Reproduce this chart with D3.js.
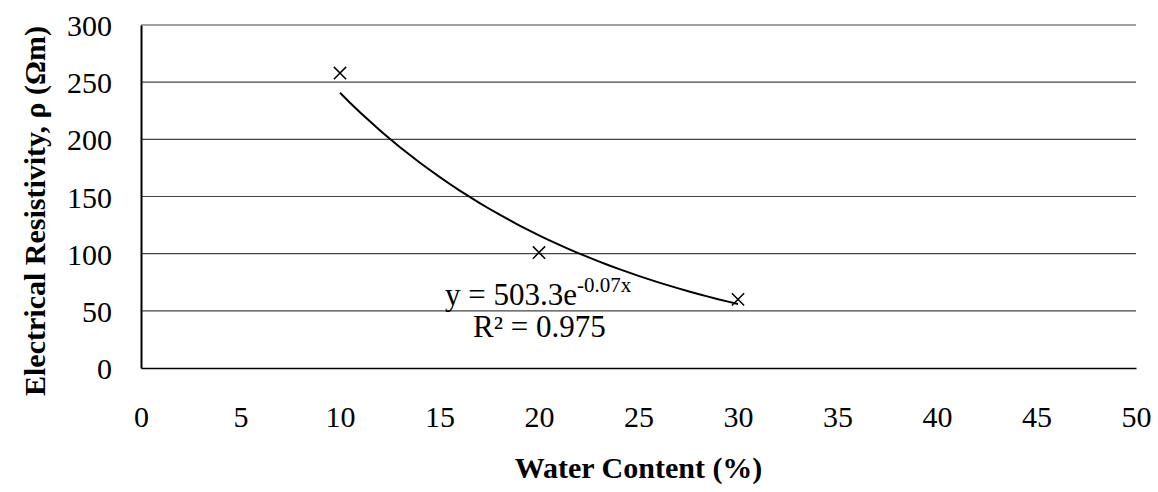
<!DOCTYPE html>
<html lang="en">
<head>
<meta charset="UTF-8" />
<title>Resistivity vs Water Content</title>
<style>
  body { margin: 0; background: #fff; }
  svg text { font-family: "Liberation Serif", "Times New Roman", serif; fill: #000; }
</style>
</head>
<body>
<div id="chart"></div>
<script src="https://cdn.jsdelivr.net/npm/d3@7/dist/d3.min.js"></script>
<script>
// data
var waterContent = [10, 20, 30];
var resistivity = [258, 101, 60];
var xTicks = [0, 5, 10, 15, 20, 25, 30, 35, 40, 45, 50];
var yTicks = [0, 50, 100, 150, 200, 250, 300];

var w = 1158, h = 492;
var m = {left: 141, right: 22, top: 25, bottom: 124};
var serif = '"Liberation Serif", "Times New Roman", serif';

var svg = d3.select("#chart").append("svg")
  .attr("width", w)
  .attr("height", h);

var xScale = d3.scaleLinear().domain([0, 50]).range([m.left, w - m.right]);
var yScale = d3.scaleLinear().domain([0, 300]).range([h - m.bottom, m.top]);

// gridlines
svg.append("g")
  .selectAll("line")
  .data(yTicks.filter(function(d) { return d > 0; }))
  .enter().append("line")
  .attr("x1", xScale(0))
  .attr("x2", xScale(50))
  .attr("y1", function(d) { return yScale(d); })
  .attr("y2", function(d) { return yScale(d); })
  .attr("stroke", "#444")
  .attr("stroke-width", 1.2);

// y axis
var yAxis = d3.axisLeft(yScale).tickValues(yTicks).tickSize(0).tickPadding(29);
var gy = svg.append("g")
  .attr("transform", "translate(" + xScale(0) + ",0)")
  .call(yAxis);
gy.attr("font-family", serif);
gy.select(".domain").attr("stroke", "#000").attr("stroke-width", 2);
gy.selectAll("text").style("font-size", "30px").attr("dy", "0.35em");

// x axis
var xAxis = d3.axisBottom(xScale).tickValues(xTicks).tickSize(0).tickPadding(38);
var gx = svg.append("g")
  .attr("transform", "translate(0," + yScale(0) + ")")
  .call(xAxis);
gx.attr("font-family", serif);
gx.select(".domain").attr("stroke", "#000").attr("stroke-width", 1.5);
gx.selectAll("text").style("font-size", "30px");

// exponential trendline (least squares on ln y, as the spreadsheet does)
var n = waterContent.length;
var lnY = resistivity.map(function(v) { return Math.log(v); });
var mx = d3.mean(waterContent), my = d3.mean(lnY);
var sxy = d3.sum(waterContent, function(x, i) { return (x - mx) * (lnY[i] - my); });
var sxx = d3.sum(waterContent, function(x) { return (x - mx) * (x - mx); });
var b = sxy / sxx;
var a = Math.exp(my - b * mx);
var trendX = d3.range(waterContent[0], waterContent[n - 1] + 0.01, 0.5);

var line = d3.line()
  .x(function(d) { return xScale(d); })
  .y(function(d) { return yScale(a * Math.exp(b * d)); });

svg.append("path")
  .datum(trendX)
  .attr("d", line)
  .attr("fill", "none")
  .attr("stroke", "#000")
  .attr("stroke-width", 2);

// markers
svg.append("g")
  .selectAll("path")
  .data(waterContent)
  .enter().append("path")
  .attr("d", d3.symbol().type(d3.symbolX).size(100))
  .attr("transform", function(d, i) {
    return "translate(" + xScale(d) + "," + yScale(resistivity[i]) + ")";
  })
  .attr("fill", "none")
  .attr("stroke", "#000")
  .attr("stroke-width", 1.5);

// equation label
var eq = svg.append("text")
  .attr("x", 445)
  .attr("y", 305)
  .style("font-size", "31px");
eq.append("tspan").text("y = 503.3e");
eq.append("tspan").attr("dy", -13).style("font-size", "21px").text("-0.07x");

svg.append("text")
  .attr("x", 473)
  .attr("y", 337)
  .style("font-size", "31px")
  .text("R² = 0.975");

// axis titles
svg.append("text")
  .attr("x", (xScale(0) + xScale(50)) / 2)
  .attr("y", 478)
  .attr("text-anchor", "middle")
  .style("font-size", "30px")
  .style("font-weight", "bold")
  .text("Water Content (%)");

svg.append("text")
  .attr("transform", "translate(45,211) rotate(-90)")
  .attr("text-anchor", "middle")
  .style("font-size", "30px")
  .style("font-weight", "bold")
  .text("Electrical Resistivity, ρ (Ωm)");
</script>
</body>
</html>
